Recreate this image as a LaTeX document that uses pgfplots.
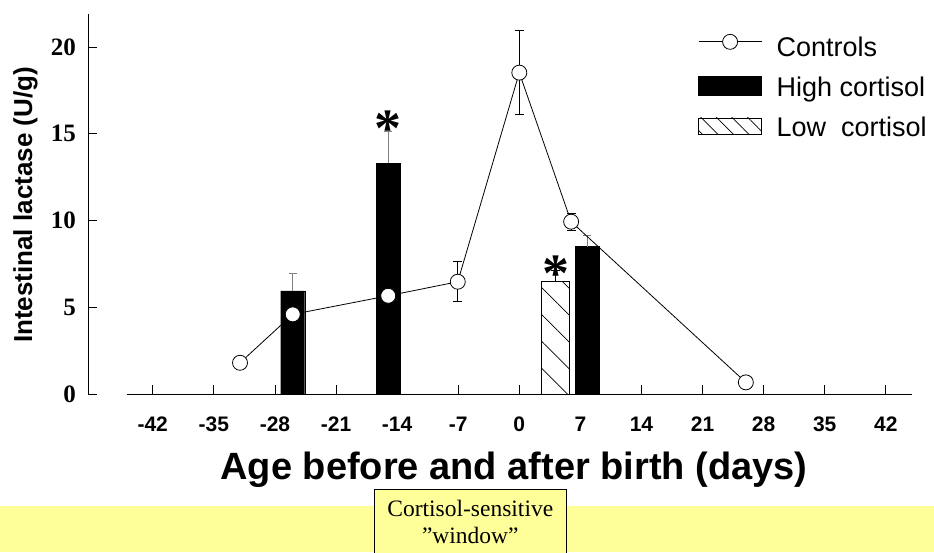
\documentclass[border=0pt]{standalone}
\usepackage{fontspec}
\setmainfont{Liberation Serif}
\setsansfont{Liberation Sans}
\usepackage{pgfplots}
\pgfplotsset{compat=1.18}
\usetikzlibrary{patterns.meta}
\definecolor{bandyellow}{HTML}{FFFF99}

\begin{document}
\begin{tikzpicture}
\path[use as bounding box] (0pt,0pt) rectangle (934pt,552pt);
\fill[bandyellow] (0pt,0pt) rectangle (934pt,46pt);
\begin{axis}[
  at={(88pt,158pt)}, anchor=south west,
  width=824pt, height=380pt, scale only axis,
  xmin=-49.42, xmax=45, ymin=0, ymax=21.9,
  clip=false,
  axis x line*=bottom, axis y line*=left,
  x axis line style={draw=none},
  y axis line style={black, line width=1pt},
  tick align=inside,
  major tick length=9pt,
  tick style={black, line width=0.8pt},
  xtick={-42,-35,-28,-21,-14,-7,0,7,14,21,28,35,42},
  xticklabels={-42,-35,-28,-21,-14,-7,0,7,14,21,28,35,42},
  ytick={0,5,10,15,20},
  yticklabels={0,5,10,15,20},
  xticklabel style={font=\sffamily\bfseries\fontsize{21}{21}\selectfont, anchor=base, inner sep=0pt, yshift=-37pt},
  yticklabel style={font=\rmfamily\bfseries\fontsize{25}{25}\selectfont, anchor=east, inner sep=0pt, xshift=-12pt},
  legend style={at={(0.7403,0.948)}, anchor=north west, draw=none, fill=none, inner sep=0pt,
    font=\sffamily\fontsize{27}{27}\selectfont,
    /tikz/row sep=14.9pt, /tikz/column sep=12.5pt},
  legend cell align=left,
]
\addlegendimage{legend image code/.code={
  \draw[black, line width=0.8pt] (0pt,5.5pt) -- (63pt,5.5pt);
  \draw[black, fill=white, line width=0.8pt] (31.5pt,5.5pt) circle (7.5pt);}}
\addlegendentry{\vphantom{Hg}Controls}
\addlegendimage{legend image code/.code={
  \fill[black] (0pt,-8.1pt) rectangle (63pt,10.9pt);}}
\addlegendentry{\vphantom{Hg}High cortisol}
\addlegendimage{legend image code/.code={
  \draw[black, line width=0.8pt, pattern={Lines[angle=-45,distance=11pt,line width=0.7pt]}] (0pt,-6.7pt) rectangle (63pt,9.3pt);}}
\addlegendentry{\vphantom{Hg}Low\ \ cortisol}

% High cortisol bars
\addplot[forget plot, ybar, bar width=2.75, fill=black, draw=black,
  error bars/.cd, y dir=plus, y explicit,
  error bar style={gray, line width=1pt},
  error mark options={rotate=90, mark size=4pt, gray, line width=1pt}]
  coordinates {(-25.96,5.95) +- (0,1.01) (-15.02,13.30) +- (0,1.82) (7.77,8.49) +- (0,0.62)};

% Low cortisol bar
\addplot[forget plot, ybar, bar width=3.16, draw=black, line width=0.8pt,
  pattern={Lines[angle=-45,distance=19pt,line width=0.7pt]},
  error bars/.cd, y dir=plus, y explicit,
  error bar style={black, line width=0.8pt},
  error mark options={rotate=90, mark size=4.5pt, black, line width=0.8pt}]
  coordinates {(4.16,6.47) +- (0,0.63)};

% Controls
\addplot[forget plot, black, line width=0.8pt, mark=*, mark size=7.5pt,
  mark options={fill=white, draw=black, line width=0.8pt},
  error bars/.cd, y dir=both, y explicit,
  error bar style={black, line width=0.8pt},
  error mark options={rotate=90, mark size=4.5pt, black, line width=0.8pt}]
  coordinates {(-32,1.8) (-25.96,4.59) (-15.02,5.66) (-7.05,6.47) +- (0,1.16)
    (0,18.52) +- (0,2.43) (5.94,9.93) +- (0,0.5) (25.96,0.67)};

\draw[black, line width=1pt] (axis cs:-45,0) -- (axis cs:45,0);
\node[font=\rmfamily\bfseries\fontsize{54}{54}\selectfont, anchor=base] at (axis cs:-15.04,14.24) {*};
\node[font=\rmfamily\bfseries\fontsize{54}{54}\selectfont, anchor=base] at (axis cs:4.25,5.88) {*};
\end{axis}

\node[rotate=90, anchor=base, inner sep=0pt, font=\sffamily\bfseries\fontsize{26}{26}\selectfont] at (32pt,347pt) {Intestinal lactase (U/g)};
\node[anchor=base, inner sep=0pt, font=\sffamily\bfseries\fontsize{38}{38}\selectfont] at (514pt,73pt) {Age before and after birth (days)};
\draw[black, line width=0.8pt, fill=bandyellow] (374pt,-5pt) rectangle (566.7pt,62.7pt);
\node[anchor=base, inner sep=0pt, font=\rmfamily\fontsize{23.5}{23.5}\selectfont] at (470.3pt,35.3pt) {Cortisol-sensitive};
\node[anchor=base, inner sep=0pt, font=\rmfamily\fontsize{23.5}{23.5}\selectfont] at (470.3pt,8.7pt) {”window”};
\end{tikzpicture}
\end{document}
